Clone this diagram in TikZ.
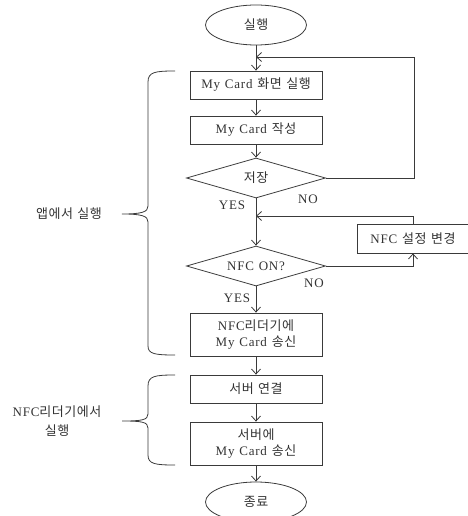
\documentclass[tikz,border=0pt]{standalone}
\usepackage{fontspec}
\setmainfont{Liberation Serif}[LetterSpace=6,WordSpace=1.2]
\newfontfamily\kr{Noto Sans CJK KR}[LetterSpace=4,WordSpace=1.3]
\usetikzlibrary{shapes.geometric,arrows.meta}
\definecolor{ln}{HTML}{3A3A3A}
\definecolor{tx}{HTML}{333333}
\begin{document}
\begin{tikzpicture}[x=1pt,y=-1pt,
  every node/.style={text=tx,font=\fontsize{13}{16}\selectfont},
  procbox/.style={draw=ln,line width=0.8pt,rectangle,minimum width=132pt,inner sep=0pt,align=center},
  decbox/.style={draw=ln,line width=0.8pt,diamond,aspect=3.475,minimum width=139pt,minimum height=40pt,inner sep=0pt},
  termbox/.style={draw=ln,line width=0.8pt,ellipse,minimum width=101pt,minimum height=40pt,inner sep=0pt},
  flow/.style={draw=ln,line width=0.8pt,-{Straight Barb[length=5pt,width=9pt]}},
  bracel/.style={draw=ln,line width=0.8pt},
  lbl/.style={inner sep=0pt}]
\useasboundingbox (0,0) rectangle (467,516);

\node[termbox] (start) at (256,25) {\kr 실행};
\node[procbox,minimum height=28pt] (b1) at (256,85) {My Card {\kr 화면 실행}};
\node[procbox,minimum height=28pt] (b2) at (256,130) {My Card {\kr 작성}};
\node[decbox] (d1) at (256,178) {\kr 저장};
\node[decbox] (d2) at (256,266) {NFC ON?};
\node[draw=ln,line width=0.8pt,rectangle,minimum width=112pt,minimum height=29pt,inner sep=0pt] (nfc) at (413,238.5) {NFC {\kr 설정 변경}};
\node[procbox,minimum height=43pt] (b3) at (256,334.5) {NFC{\kr 리더기에}\\My Card {\kr 송신}};
\node[procbox,minimum height=28pt] (b4) at (256,389) {\kr 서버 연결};
\node[procbox,minimum height=43pt] (b5) at (256,443.5) {{\kr 서버에}\\My Card {\kr 송신}};
\node[termbox] (stop) at (256,502) {\kr 종료};

\coordinate (loop1) at (414,57);
\coordinate (loop1e) at (256,57);
\coordinate (loop2) at (413,216);
\coordinate (loop2e) at (256,216);

\draw[flow] (start) -- (b1);
\draw[flow] (b1) -- (b2);
\draw[flow] (b2) -- (d1);
\draw[flow] (d1) -- (d2);
\draw[flow] (d2) -- (b3);
\draw[flow] (b3) -- (b4);
\draw[flow] (b4) -- (b5);
\draw[flow] (b5) -- (stop);
\draw[flow] (d1.east) -| (loop1) -- (loop1e);
\draw[flow] (nfc.north) |- (loop2e);
\draw[flow] (d2.east) -| (nfc.south);

\node[lbl] (no1) at (308,199) {NO};
\node[lbl] (yes1) at (232,205) {YES};
\node[lbl] (no2) at (314,283) {NO};
\node[lbl] (yes2) at (237,298) {YES};

% braces
\draw[bracel] (175,71) .. controls (155,71) and (148,72) .. (148,82)
  -- (148,206) .. controls (148,212) and (142,214) .. (122,214)
  .. controls (142,214) and (148,216) .. (148,222)
  -- (148,346) .. controls (148,354) and (155,355) .. (175,355);
\draw[bracel] (175,375) .. controls (155,375) and (148,376) .. (148,386)
  -- (148,414) .. controls (148,420) and (142,421) .. (122,421)
  .. controls (142,421) and (148,422) .. (148,428)
  -- (148,455) .. controls (148,464) and (155,465) .. (175,465);

\node[lbl] (app) at (69,214) {\kr 앱에서 실행};
\node[lbl,align=center,font=\fontsize{13}{19}\selectfont] (reader) at (57,421) {NFC{\kr 리더기에서}\\{\kr 실행}};
\end{tikzpicture}
\end{document}
